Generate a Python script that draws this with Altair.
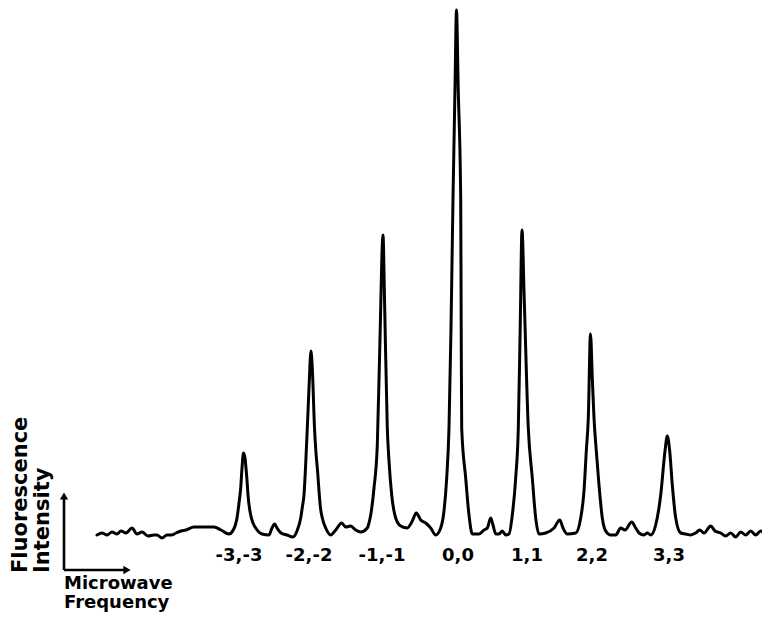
import altair as alt
import pandas as pd

# Spectrum trace (frequency and intensity in arbitrary units)
freq = [98, 103, 108, 113, 118, 122, 127, 133, 138, 143, 149, 155, 158, 163, 168, 173, 177, 182, 187,
        195, 205, 215, 222, 230, 233, 236, 238, 240, 241.7, 243, 244.5, 246, 246.7, 248, 249, 251.7,
        254, 256.7, 263, 270, 273, 275.7, 278, 282, 288, 294, 298, 301.7, 303.5, 305, 306.5, 308.3,
        310, 312, 313.5, 315.5, 317, 318.5, 320, 321.5, 323.3, 326.7, 331.7, 336.7, 342.7, 346.7,
        351.7, 356.7, 361.7, 368.3, 370, 371.7, 375, 378.3, 381, 384, 385.5, 388.3, 390, 392.7,
        396.7, 401.7, 408.3, 413.3, 417.3, 421.7, 426.7, 431.7, 436.7, 441.7, 445, 447.7, 450, 452,
        454, 456, 457.5, 459.2, 461.7, 462.2, 462.7, 466.7, 470, 473.3, 480, 485, 488.3, 491.7, 494,
        496.7, 500, 503.3, 506.7, 510, 513.3, 516.7, 519.3, 521.2, 523, 525.2, 529.3, 533.3, 536.7,
        540, 546.7, 555, 560.7, 564, 568.3, 576.7, 581.7, 585, 587.3, 589.3, 591.5, 593.3, 595,
        597.3, 600, 603.3, 606.7, 611.7, 616.7, 621.7, 626, 632.7, 636.7, 640, 645, 648.3, 651.7,
        656.7, 661.7, 666, 668.3, 670.7, 673.3, 676.7, 681.7, 686.7, 691.7, 696.7, 700.7, 705,
        711.7, 716, 721.7, 726.7, 731.7, 736.7, 741.7, 746.7, 751.7, 756.7, 761.7, 766.7]
intensity = [3, 5, 3, 6, 4, 7, 5, 10, 4, 6, 2, 3, 3, 0, 3, 3, 5, 7, 8,
             11, 11, 11, 8, 4, 6, 12, 20, 35, 50, 70, 85, 80, 73, 58, 43, 23,
             15, 10, 4, 3, 10, 14, 10, 5, 3, 1, 7, 20, 32, 43, 70, 110,
             150, 187, 165, 110, 85, 68, 47, 30, 20, 10, 3, 8, 15, 11,
             12, 8, 6, 10, 15, 23, 50, 93, 200, 303, 240, 110, 77, 43,
             20, 12, 10, 17, 25, 18, 15, 10, 3, 10, 27, 60, 110, 210,
             340, 450, 528, 450, 340, 210, 110, 60, 23, 4, 4, 8, 10, 20, 13,
             4, 4, 7, 3, 4, 23, 60, 110, 210, 308, 240, 110, 60, 20,
             4, 5, 10, 18, 10, 4, 5, 20, 47, 87, 120, 204, 160, 120,
             87, 53, 20, 7, 3, 3, 10, 8, 16, 10, 5, 3, 5, 3,
             13, 43, 87, 102, 87, 53, 20, 5, 4, 3, 5, 8, 5,
             12, 7, 5, 2, 5, 1, 6, 3, 7, 3, 7, 2]

# Peak labels
peak_labels = ["-3,-3", "-2,-2", "-1,-1", "0,0", "1,1", "2,2", "3,3"]
peak_label_freq = [240, 310, 383, 459, 528, 593, 670]
peak_label_int = [-23] * 7

X_DOMAIN = [9, 763]
Y_DOMAIN = [-75, 530]

trace = pd.DataFrame({"f": freq, "i": intensity})
labels = pd.DataFrame({"f": peak_label_freq, "i": peak_label_int, "t": peak_labels})

xs = alt.Scale(domain=X_DOMAIN, nice=False, zero=False)
ys = alt.Scale(domain=Y_DOMAIN, nice=False, zero=False)


def X(field="f"):
    return alt.X(field, type="quantitative", scale=xs, axis=None)


def Y(field="i"):
    return alt.Y(field, type="quantitative", scale=ys, axis=None)


line = alt.Chart(trace).mark_line(color="black", strokeWidth=3, interpolate="monotone",
                                  strokeJoin="round", strokeCap="round").encode(x=X(), y=Y())

lab = alt.Chart(labels).mark_text(font="DejaVu Sans", fontWeight="bold", fontSize=18,
                                  align="center", baseline="alphabetic", color="black").encode(
    x=X(), y=Y(), text="t:N")

# Axis arrows (annotation)
v_arrow = pd.DataFrame({"f": [65, 65], "i": [-32, 40]})
h_arrow = pd.DataFrame({"f": [65, 126], "i": [-32, -32]})
v_head = pd.DataFrame({"f": [65], "i": [42]})
h_head = pd.DataFrame({"f": [128], "i": [-32]})

va = alt.Chart(v_arrow).mark_line(color="black", strokeWidth=2.6).encode(x=X(), y=Y())
ha = alt.Chart(h_arrow).mark_line(color="black", strokeWidth=2.6).encode(x=X(), y=Y())
vh = alt.Chart(v_head).mark_point(shape="triangle-up", filled=True, color="black", size=70,
                                  opacity=1).encode(x=X(), y=Y())
hh = alt.Chart(h_head).mark_point(shape="triangle-right", filled=True, color="black", size=70,
                                  opacity=1).encode(x=X(), y=Y())

rot_text = pd.DataFrame({"f": [28, 50], "i": [-35, -35], "t": ["Fluorescence", "Intensity"]})
hor_text = pd.DataFrame({"f": [65, 65], "i": [-51, -70], "t": ["Microwave", "Frequency"]})

rt = alt.Chart(rot_text).mark_text(font="DejaVu Sans", fontWeight="bold", fontSize=21, angle=270,
                                   align="left", baseline="alphabetic", color="black").encode(
    x=X(), y=Y(), text="t:N")
ht = alt.Chart(hor_text).mark_text(font="DejaVu Sans", fontWeight="bold", fontSize=18,
                                   align="left", baseline="alphabetic", color="black").encode(
    x=X(), y=Y(), text="t:N")

chart = alt.layer(line, lab, va, ha, vh, hh, rt, ht).properties(
    width=754, height=605,
    autosize=alt.AutoSizeParams(type="none"),
    padding=0,
    background="white",
).configure_view(stroke=None)

chart.save("out.html", embed_options={"renderer": "svg", "actions": False})
